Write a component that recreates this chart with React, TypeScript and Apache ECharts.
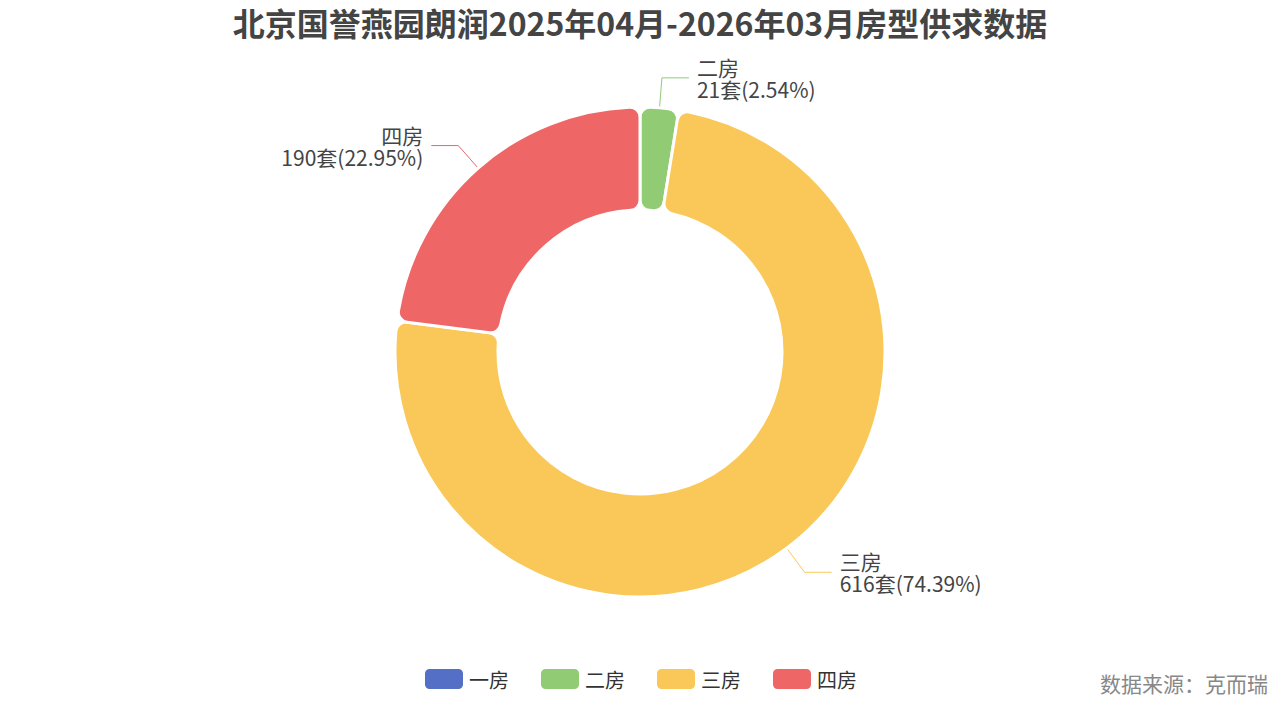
import React, { useEffect, useRef } from "react";
import * as echarts from "echarts";

const categories = ["一房", "二房", "三房", "四房"];
const values = [0, 21, 616, 190];
const percents = ["0.00", "2.54", "74.39", "22.95"];
const colors = ["#5470c6", "#91cc75", "#fac858", "#ee6666"];
const titleText = "北京国誉燕园朗润2025年04月-2026年03月房型供求数据";
const sourceText = "数据来源：克而瑞";

export default function App() {
  const ref = useRef<HTMLDivElement>(null);
  useEffect(() => {
    document.body.style.margin = "0";
    const chart = echarts.init(ref.current!, undefined, { renderer: "svg" });
    const font = "'Noto Sans CJK SC', 'Noto Sans', sans-serif";
    chart.setOption({
      animation: false,
      color: colors,
      textStyle: { fontFamily: font },
      title: {
        text: titleText,
        left: "center",
        top: 1,
        textStyle: { fontSize: 32, fontWeight: "bold", color: "#444", fontFamily: font },
      },
      legend: {
        data: categories,
        bottom: 7,
        left: "center",
        icon: "roundRect",
        itemWidth: 40,
        itemHeight: 22,
        itemGap: 30,
        textStyle: { fontSize: 20, color: "#333", fontFamily: font },
      },
      graphic: [
        {
          type: "text",
          right: 12,
          bottom: 10,
          style: { text: sourceText, fontSize: 21, fill: "#888", fontFamily: font },
        },
      ],
      series: [
        {
          type: "pie",
          center: [640, 352],
          radius: [142, 245],
          startAngle: 90,
          avoidLabelOverlap: true,
          itemStyle: { borderRadius: 10, borderColor: "#fff", borderWidth: 3 },
          label: {
            show: true,
            fontSize: 21,
            lineHeight: 22,
            color: "#444",
            fontFamily: font,
            distanceToLabelLine: 8,
            formatter: (p: any) => `${p.name}\n${p.value}套(${percents[p.dataIndex]}%)`,
          },
          labelLine: { length: 30, length2: 27 },
          data: categories.map((c, i) => ({
            name: c,
            value: values[i],
            label: values[i] === 0 ? { show: false } : undefined,
            labelLine: values[i] === 0 ? { show: false } : undefined,
          })),
        },
      ],
    });
    return () => chart.dispose();
  }, []);
  return <div ref={ref} style={{ width: 1280, height: 703 }} />;
}
